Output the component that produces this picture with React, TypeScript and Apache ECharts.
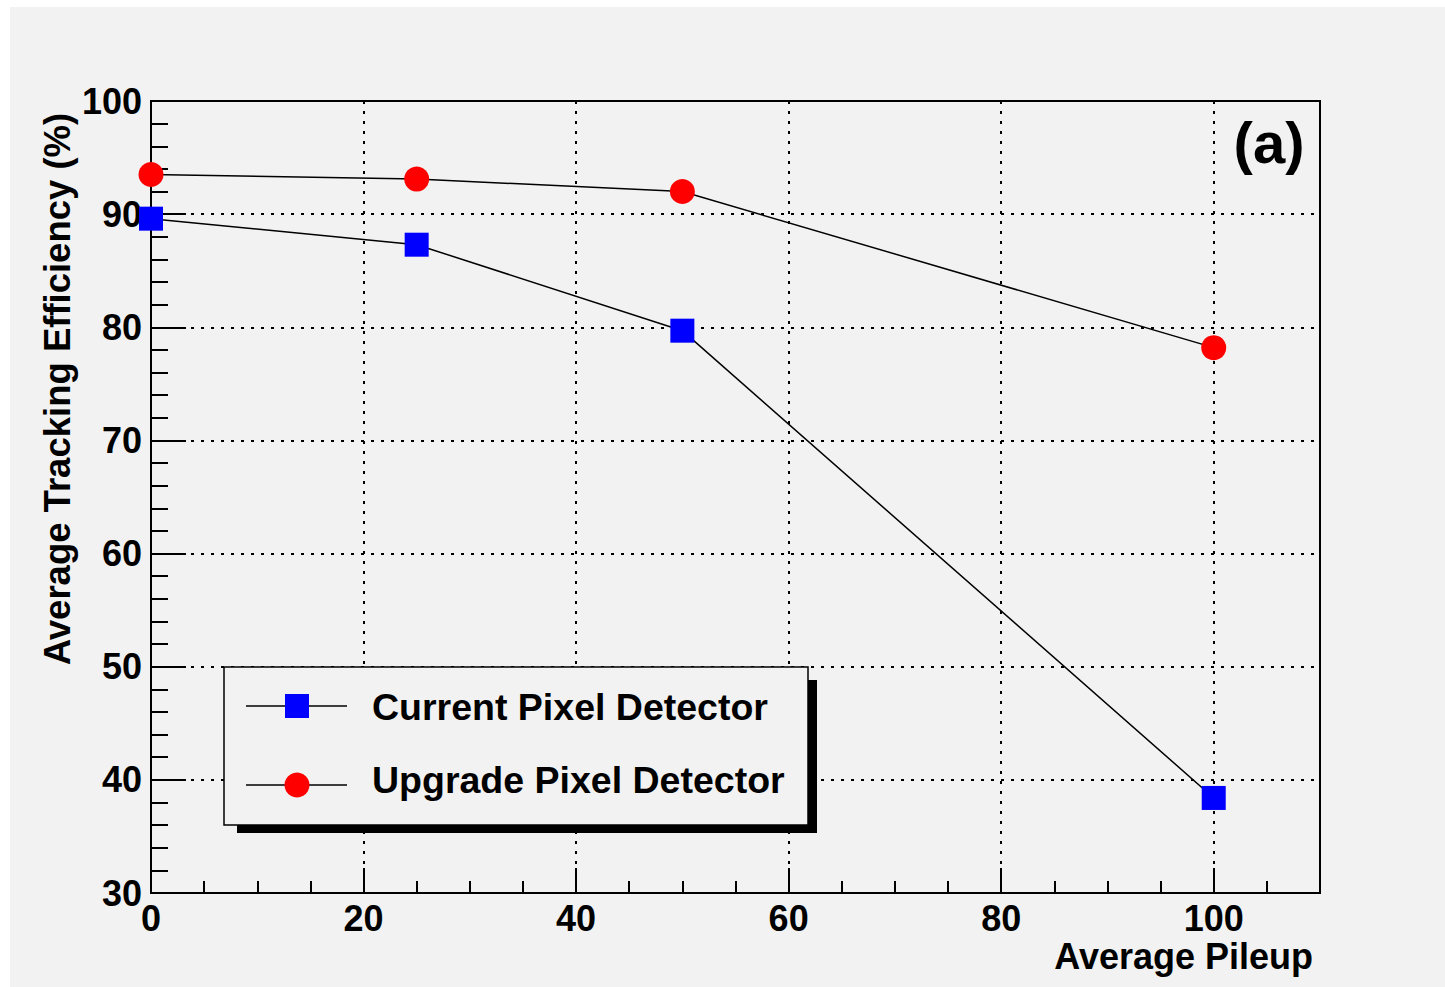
import React, { useEffect, useRef } from "react";
import * as echarts from "echarts";

const pileup = [0, 25, 50, 100];
const currentEff = [89.6, 87.3, 79.7, 38.4];
const upgradeEff = [93.5, 93.1, 92.0, 78.2];
const seriesNames = ["Current Pixel Detector", "Upgrade Pixel Detector"];
const xTitle = "Average Pileup";
const yTitle = "Average Tracking Efficiency (%)";
const panelLabel = "(a)";

const FONT = "'Liberation Sans', Arial, Helvetica, sans-serif";
const BG = "#f2f2f2";

export default function App() {
  const ref = useRef<HTMLDivElement>(null);
  useEffect(() => {
    if (!ref.current) return;
    const chart = echarts.init(ref.current, undefined, { renderer: "svg" });
    const dotted = { color: "#000", width: 2, type: [3, 7] as any };
    const labelStyle = {
      fontSize: 36,
      fontWeight: "bold" as const,
      fontFamily: FONT,
      color: "#000",
    };
    const txt = (text: string, x: number, y: number, size: number, align: string, valign: string, extra: any = {}) => ({
      type: "text",
      x,
      y,
      z: 103,
      ...extra,
      style: {
        text,
        fill: "#000",
        font: `bold ${size}px ${FONT}`,
        textAlign: align,
        align,
        textVerticalAlign: valign,
        verticalAlign: valign,
      },
    });
    chart.setOption({
      animation: false,
      backgroundColor: BG,
      grid: {
        left: 151,
        right: 125,
        top: 101,
        bottom: 94,
        containLabel: false,
        outerBoundsMode: "none",
        show: true,
        backgroundColor: BG,
        borderColor: "#000",
        borderWidth: 2,
      },
      xAxis: [
        {
          type: "value",
          position: "bottom",
          min: 0,
          max: 110,
          interval: 20,
          axisLine: { show: true, lineStyle: { color: "#000", width: 2 } },
          axisTick: { show: true, inside: true, length: 25, lineStyle: { color: "#000", width: 2 } },
          axisLabel: {
            ...labelStyle,
            margin: 7,
            formatter: (v: number) => (v > 100 ? "" : String(v)),
          },
          splitLine: { show: true, lineStyle: dotted },
        },
        {
          type: "value",
          position: "bottom",
          min: 0,
          max: 110,
          interval: 5,
          axisLine: { show: false },
          axisTick: { show: true, inside: true, length: 12, lineStyle: { color: "#000", width: 2 } },
          axisLabel: { show: false },
          splitLine: { show: false },
        },
      ],
      yAxis: {
        type: "value",
        min: 30,
        max: 100,
        interval: 10,
        axisLine: { show: true, lineStyle: { color: "#000", width: 2 } },
        axisTick: { show: true, inside: true, length: 35, lineStyle: { color: "#000", width: 2 } },
        minorTick: { show: true, splitNumber: 5, length: 17, lineStyle: { color: "#000", width: 2 } },
        axisLabel: { ...labelStyle, margin: 9 },
        splitLine: { show: true, lineStyle: dotted },
      },
      series: [
        {
          name: seriesNames[0],
          type: "line",
          xAxisIndex: 0,
          data: pileup.map((x, i) => [x, currentEff[i]]),
          symbol: "rect",
          symbolSize: 24,
          itemStyle: { color: "#0000ff" },
          lineStyle: { color: "#000", width: 1.5 },
          z: 5,
        },
        {
          name: seriesNames[1],
          type: "line",
          xAxisIndex: 0,
          data: pileup.map((x, i) => [x, upgradeEff[i]]),
          symbol: "circle",
          symbolSize: 25,
          itemStyle: { color: "#ff0000" },
          lineStyle: { color: "#000", width: 1.5 },
          z: 5,
        },
      ],
      graphic: [
        { type: "rect", z: 1, shape: { x: 0, y: 0, width: 1445, height: 7 }, style: { fill: "#fff" } },
        { type: "rect", z: 1, shape: { x: 0, y: 0, width: 10, height: 987 }, style: { fill: "#fff" } },
        { type: "rect", z: 100, shape: { x: 237, y: 680, width: 580, height: 153 }, style: { fill: "#000" } },
        { type: "rect", z: 101, shape: { x: 224, y: 667, width: 584, height: 158 }, style: { fill: BG, stroke: "#000", lineWidth: 1.5 } },
        { type: "line", z: 102, shape: { x1: 246, y1: 706, x2: 347, y2: 706 }, style: { stroke: "#000", lineWidth: 1.5 } },
        { type: "line", z: 102, shape: { x1: 246, y1: 785, x2: 347, y2: 785 }, style: { stroke: "#000", lineWidth: 1.5 } },
        { type: "rect", z: 103, shape: { x: 285, y: 694, width: 24, height: 24 }, style: { fill: "#0000ff" } },
        { type: "circle", z: 103, shape: { cx: 297, cy: 785, r: 12.5 }, style: { fill: "#ff0000" } },
        txt(seriesNames[0], 372, 707, 37.5, "left", "middle"),
        txt(seriesNames[1], 372, 780, 37.5, "left", "middle"),
        txt(panelLabel, 1269, 142, 58, "center", "middle"),
        txt(xTitle, 1313, 956, 36, "right", "middle"),
        txt(yTitle, 57, 389, 36.5, "center", "middle", { rotation: Math.PI / 2 }),
      ],
    });
    return () => chart.dispose();
  }, []);
  return <div ref={ref} style={{ position: "absolute", left: 0, top: 0, width: 1445, height: 987 }} />;
}
